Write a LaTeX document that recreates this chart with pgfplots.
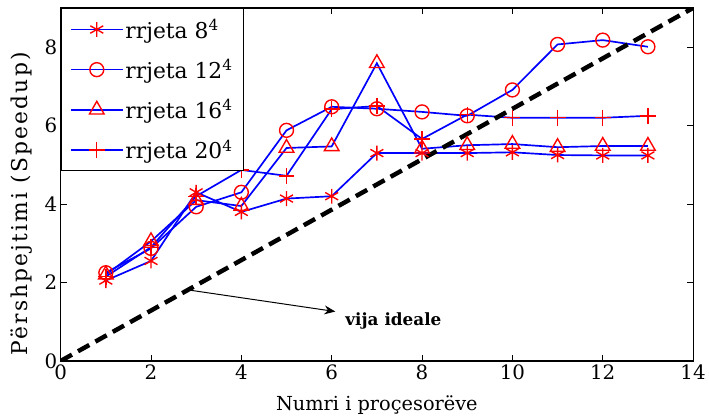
\documentclass[border=0pt]{standalone}
\usepackage{fontspec}
\setmainfont{DejaVu Serif}
\usepackage{pgfplots}
\pgfplotsset{compat=1.18}
\usetikzlibrary{arrows.meta}
\begin{document}
\begin{tikzpicture}
\begin{axis}[
  name=ax,
  scale only axis, width=636bp, height=355bp,
  xmin=0, xmax=14, ymin=0, ymax=9,
  xtick={0,2,...,14}, ytick={0,2,4,6,8},
  tick align=inside, major tick length=6bp,
  tick style={black, line width=0.8pt},
  ticklabel style={font=\fontsize{20}{24}\selectfont},
  /pgf/number format/assume math mode=true,
  xlabel={Numri i proçesorëve},
  ylabel={\addfontfeature{LetterSpace=10}Përshpejtimi (Speedup)},
  xlabel style={font=\fontsize{19.5}{22}\selectfont, at={(axis description cs:0.5,0)}, anchor=base, yshift=-50bp},
  ylabel style={font=\fontsize{22}{26}\selectfont, at={(axis description cs:-0.0615,0.445)}, anchor=center},
  axis line style={line width=1.2pt},
  legend style={at={(0,1)}, anchor=north west, draw=black, line width=1pt,
    font=\fontsize{22}{26}\selectfont, row sep=16bp, inner xsep=9bp, inner ysep=9bp},
  legend cell align=left,
  legend image code/.code={\draw[line width=1.7pt, mark repeat=2, mark phase=2] plot coordinates {(0bp,0bp) (26bp,0bp) (52bp,0bp)};},
  mylines/.style={blue, line width=1.7pt, mark options={red, solid, line width=1.4pt}},
]
\addplot[mylines, mark=asterisk, mark size=7.5bp] coordinates {(1,2.05) (2,2.55) (3,4.30) (4,3.80) (5,4.14) (6,4.20) (7,5.30) (8,5.30) (9,5.30) (10,5.32) (11,5.25) (12,5.24) (13,5.24)};
\addlegendentry{rrjeta 8\textsuperscript{4}}
\addplot[mylines, mark=o, mark size=7bp] coordinates {(1,2.25) (2,2.87) (3,3.93) (4,4.30) (5,5.88) (6,6.48) (7,6.43) (8,6.35) (9,6.25) (10,6.91) (11,8.07) (12,8.18) (13,8.01)};
\addlegendentry{rrjeta 12\textsuperscript{4}\hspace{10bp}}
\addplot[mylines, mark=triangle, mark size=8.5bp] coordinates {(1,2.20) (2,3.05) (3,4.10) (4,3.95) (5,5.43) (6,5.47) (7,7.59) (8,5.41) (9,5.50) (10,5.53) (11,5.45) (12,5.48) (13,5.48)};
\addlegendentry{rrjeta 16\textsuperscript{4}}
\addplot[mylines, mark=+, mark size=8bp] coordinates {(1,2.15) (2,2.90) (3,4.20) (4,4.87) (5,4.72) (6,6.42) (7,6.50) (8,5.66) (9,6.28) (10,6.20) (11,6.20) (12,6.20) (13,6.25)};
\addlegendentry{rrjeta 20\textsuperscript{4}}
\addplot[black, line width=4.5pt, dash pattern=on 13bp off 7bp, mark=none, forget plot] coordinates {(0,0) (14,9)};
\draw[black, line width=1pt, -{Stealth[length=11bp,width=9bp]}] (axis cs:2.89,1.80) -- (axis cs:6.08,1.26);
\node[anchor=west, font=\fontsize{17}{20}\selectfont\bfseries, inner sep=0pt] at (axis cs:6.30,1.02) {vija ideale};
\end{axis}
\path ([xshift=-61bp,yshift=8bp]ax.north west) ([xshift=12bp,yshift=-57bp]ax.south east);
\end{tikzpicture}
\end{document}
